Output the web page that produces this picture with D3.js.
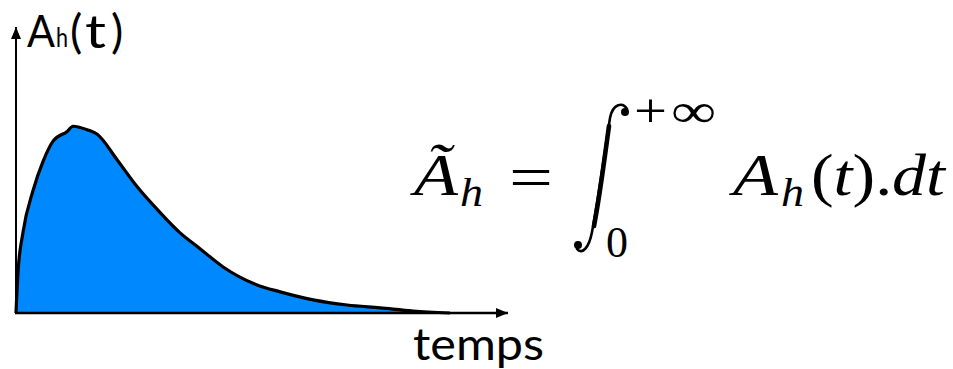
<!DOCTYPE html>
<html>
<head>
<meta charset="utf-8">
<script src="https://cdn.jsdelivr.net/npm/d3@7"></script>
<style>
  body { margin: 0; background: #fff; }
  svg { display: block; }
</style>
</head>
<body>
<svg id="viz_area" width="953" height="369"></svg>
<script>
// curve (t in arbitrary units, A_h(t) in fraction of axis height)
var tVals = [0, 0.04, 0.14, 0.35, 0.55, 0.75, 1.04, 1.16, 1.46, 1.65, 2.05, 2.46, 2.93, 3.33, 3.74, 4.21, 4.90, 5.37, 6.04, 6.73, 7.40, 8.07, 8.82]
var aVals = [0, 0.14, 0.28, 0.43, 0.53, 0.60, 0.635, 0.653, 0.64, 0.625, 0.537, 0.442, 0.351, 0.281, 0.225, 0.161, 0.098, 0.074, 0.046, 0.028, 0.018, 0.007, 0]
var yLabel = ["A", "h", "(", "t", ")"]
var xLabel = "temps"

var data = tVals.map(function (t, i) { return { t: t, a: aVals[i] } })

var svg = d3.select("#viz_area")
var x = d3.scaleLinear().domain([0, 10]).range([16, 508])
var y = d3.scaleLinear().domain([0, 1]).range([313, 27])

var SANS = "Lato"
var SERIF = "Liberation Serif"

var defs = svg.append("defs")
defs.append("marker").attr("id", "arrow")
  .attr("viewBox", "0 0 12 10").attr("refX", 12).attr("refY", 5)
  .attr("markerWidth", 12).attr("markerHeight", 10)
  .attr("markerUnits", "userSpaceOnUse").attr("orient", "auto")
  .append("path").attr("d", "M0,0L12,5L0,10Z").attr("fill", "#000")

// filled curve
var area = d3.area().x(function (d) { return x(d.t) }).y0(y(0)).y1(function (d) { return y(d.a) })
  .curve(d3.curveMonotoneX)
var line = d3.line().x(function (d) { return x(d.t) }).y(function (d) { return y(d.a) })
  .curve(d3.curveMonotoneX)

svg.append("path").datum(data).attr("d", area).attr("fill", "#0088ff")
svg.append("path").datum(data).attr("d", line)
  .attr("fill", "none").attr("stroke", "#000").attr("stroke-width", 3.2).attr("stroke-linejoin", "round")

// axes
svg.append("line").attr("x1", x(0)).attr("y1", y(0) + 1).attr("x2", x(0)).attr("y2", y(1))
  .attr("stroke", "#000").attr("stroke-width", 2).attr("marker-end", "url(#arrow)")
svg.append("line").attr("x1", x(0) - 1).attr("y1", y(0)).attr("x2", x(10)).attr("y2", y(0))
  .attr("stroke", "#000").attr("stroke-width", 2.5).attr("marker-end", "url(#arrow)")

function txt(g, tx, ty, size, fam, s, opts) {
  opts = opts || {}
  var t = g.append("text").attr("x", tx).attr("y", ty)
    .attr("font-family", fam).attr("font-size", size).attr("fill", "#000")
  if (opts.italic) t.attr("font-style", "italic")
  if (opts.len) t.attr("textLength", opts.len).attr("lengthAdjust", "spacingAndGlyphs")
  if (opts.html) t.html(s); else t.text(s)
  return t
}

// axis labels
var lab = svg.append("g")
txt(lab, 27, 47, 45, SANS, yLabel[0], { len: 28 })
txt(lab, 56, 47, 26, SANS, yLabel[1], { len: 12 })
txt(lab, 70, 48, 46, SANS, yLabel[2])
txt(lab, 85, 48, 46, SANS, yLabel[3], { len: 21 })
txt(lab, 111, 48, 46, SANS, yLabel[4])
txt(lab, 413, 360, 44, SANS, xLabel, { len: 131 })

// formula
var f = svg.append("g")
txt(f, 414, 195, 60, SERIF, "Ã", { italic: true, len: 44 })
txt(f, 460, 206, 40, SERIF, "h", { italic: true, len: 23 })
txt(f, 509, 198, 62, SERIF, "=", { len: 44 })

// integral sign
var p = d3.path()
p.moveTo(627, 109)
p.bezierCurveTo(623, 102, 613, 103, 610, 118)
p.bezierCurveTo(605, 150, 598, 200, 592, 232)
p.bezierCurveTo(589, 248, 582, 255, 577, 249)
f.append("path").attr("d", p.toString())
  .attr("fill", "none").attr("stroke", "#000").attr("stroke-width", 2.6).attr("stroke-linecap", "round")
var m = d3.path()
m.moveTo(609, 126)
m.bezierCurveTo(605, 155, 600, 195, 594, 226)
f.append("path").attr("d", m.toString())
  .attr("fill", "none").attr("stroke", "#000").attr("stroke-width", 4.6).attr("stroke-linecap", "round")
f.append("circle").attr("cx", 625).attr("cy", 112).attr("r", 4)
f.append("circle").attr("cx", 578).attr("cy", 245).attr("r", 4)

txt(f, 634, 127, 48, SERIF, "+", { len: 33 })
txt(f, 671, 127, 48, SERIF, "∞", { len: 45 })
txt(f, 606, 257, 44, SERIF, "0", { len: 22 })

txt(f, 733, 195, 60, SERIF, "A", { italic: true, len: 45 })
txt(f, 781, 206, 40, SERIF, "h", { italic: true, len: 23 })
txt(f, 811, 195, 60, SERIF, "(<tspan font-style='italic'>t</tspan>).<tspan font-style='italic'>dt</tspan>",
  { html: true, len: 134 })
</script>
</body>
</html>
